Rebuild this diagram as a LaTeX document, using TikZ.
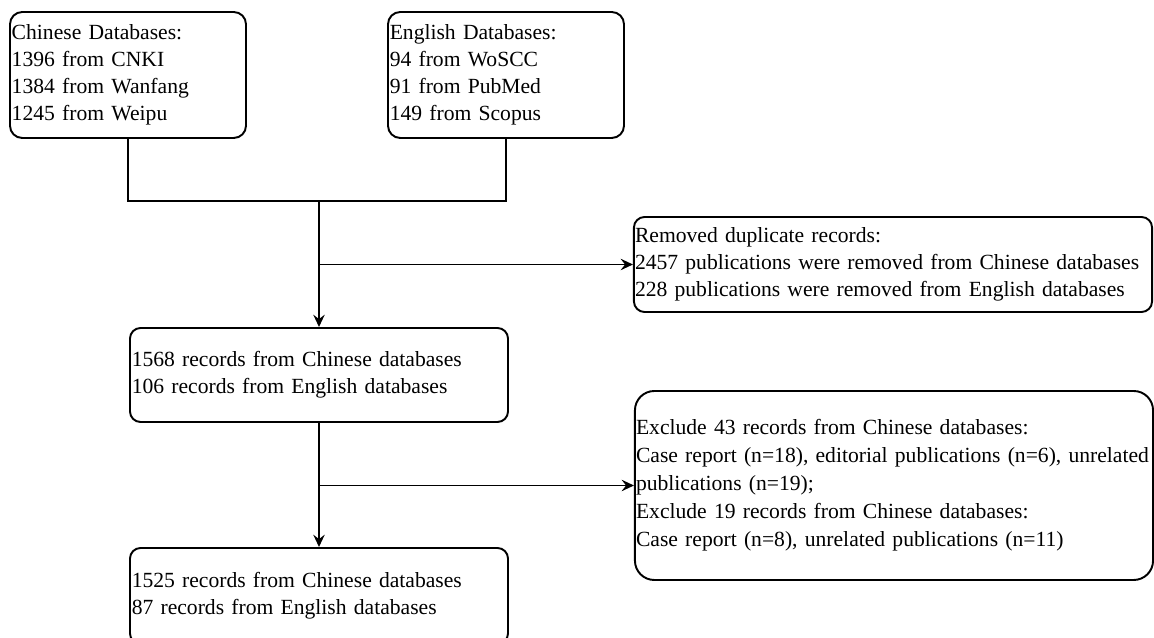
\documentclass[tikz,border=0pt]{standalone}
\usepackage{fontspec}
\setmainfont{Liberation Serif}
\usetikzlibrary{arrows.meta,positioning}

\begin{document}
\begin{tikzpicture}[
  record/.style={draw, line width=1.1pt, rounded corners=6pt, align=left,
    inner xsep=1pt, inner ysep=0pt, font=\fontsize{12.3}{15.3}\selectfont},
  source/.style={record, rounded corners=7pt, text width=4.65cm, minimum height=2.52cm},
  pool/.style={record, text width=7.49cm, minimum height=1.88cm},
  drop/.style={record, inner xsep=0.6pt, text width=10.32cm},
  link/.style={line width=1.1pt},
  arr/.style={link, -{Stealth[length=7pt,width=6.5pt,inset=2.5pt]}},
]
\clip (0,0) rectangle (23.08,12.76);

% Sources
\node[source] (cndb) at (2.56,11.26) {Chinese Databases:\\1396 from CNKI\\1384 from Wanfang\\1245 from Weipu};
\node[source] (endb) at (10.12,11.26) {English Databases:\\94 from WoSCC\\91 from PubMed\\149 from Scopus};

% Record pools
\node[pool] (merged) at (6.38,5.26) {1568 records from Chinese databases\\106 records from English databases};
\node[pool, minimum height=1.92cm] (final) at (6.38,0.84) {1525 records from Chinese databases\\87 records from English databases};

% Removed records
\node[drop, minimum height=1.9cm] (dupl) at (17.86,7.47) {Removed duplicate records:\\2457 publications were removed from Chinese databases\\228 publications were removed from English databases};
\node[drop, rounded corners=11pt, minimum height=3.78cm, font=\fontsize{12.3}{15.9}\selectfont] (excl) at (17.88,3.05)
  {Exclude 43 records from Chinese databases:\\Case report (n=18), editorial publications (n=6), unrelated\\publications (n=19);\\Exclude 19 records from Chinese databases:\\Case report (n=8), unrelated publications (n=11)};

% Connectors
\coordinate (join) at (6.38,8.74);
\draw[link] (cndb.south) |- (join) -| (endb.south);
\draw[arr] (join) -- (merged.north);
\draw[arr] (join |- dupl.west) -- (dupl.west);
\draw[arr] (merged.south) -- (final.north);
\draw[arr] (merged.south |- excl.west) -- (excl.west);
\end{tikzpicture}
\end{document}
